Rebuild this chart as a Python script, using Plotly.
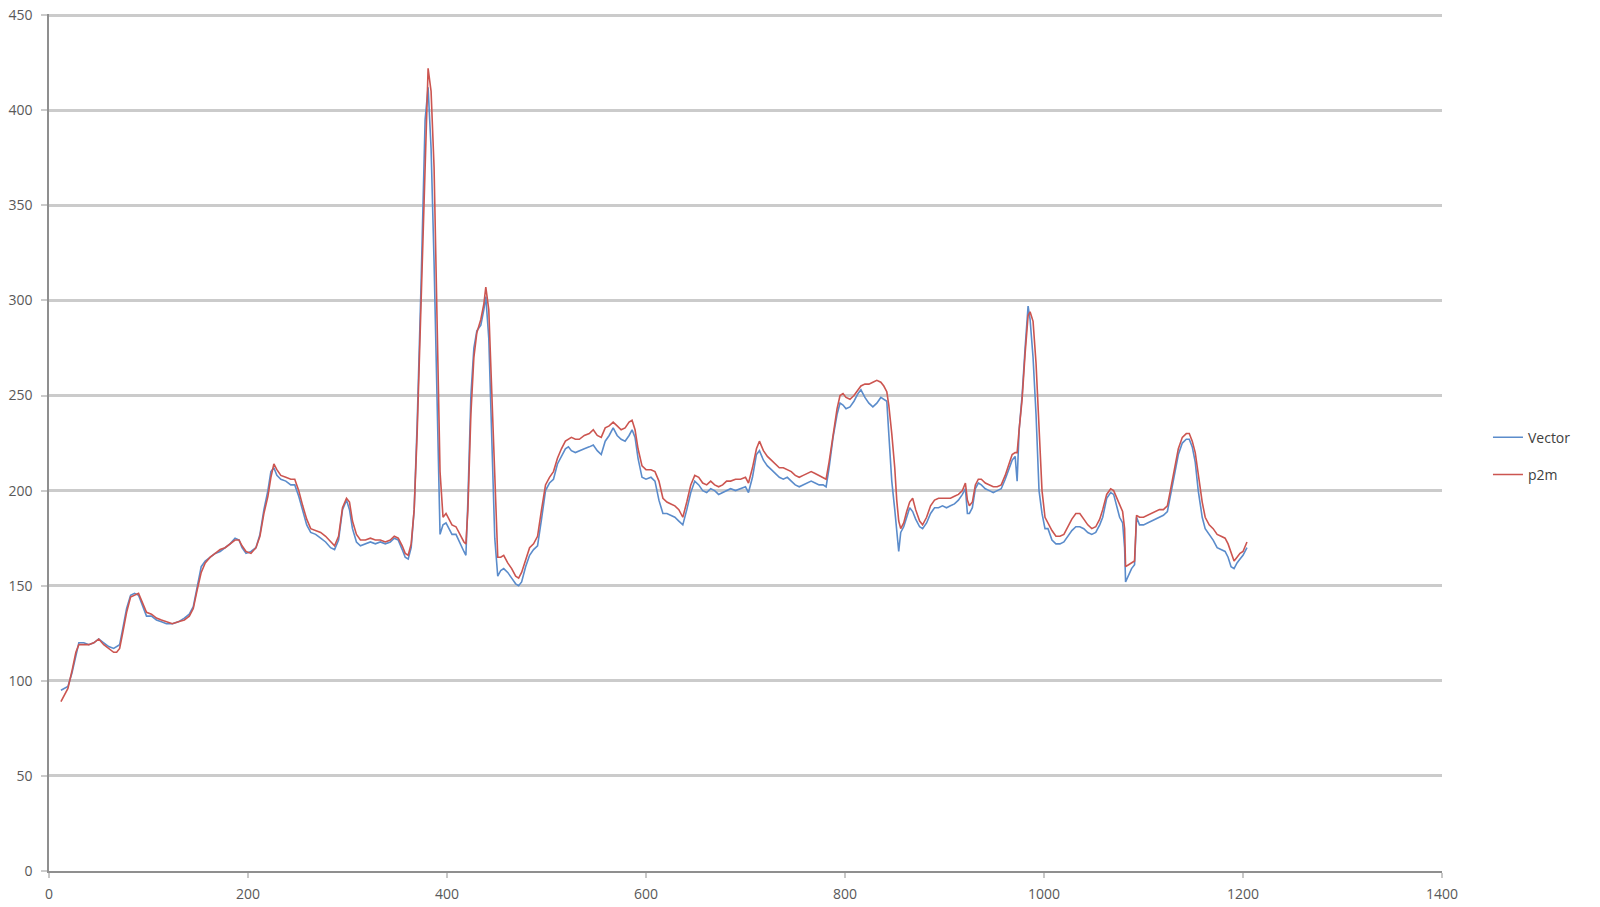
import plotly.graph_objects as go

x_vals = [12, 15, 19, 23, 27, 30, 35, 40, 45, 50, 55, 60, 65, 68, 71, 74, 78, 82, 86, 90,
          94, 98, 103, 108, 113, 118, 124, 130, 136, 141, 145, 149, 153, 157, 162, 167, 172, 177, 182, 187,
          191, 194, 198, 203, 208, 212, 216, 220, 223, 226, 229, 233, 238, 243, 247, 251, 255, 259, 263, 268,
          273, 278, 283, 287, 291, 295, 299, 302, 305, 309, 313, 318, 323, 328, 333, 338, 343, 347, 351, 355,
          358, 361, 364, 367, 370, 374, 378, 381, 384, 387, 390, 393, 396, 399, 402, 405, 409, 413, 417, 419,
          421, 424, 427, 430, 434, 437, 439, 442, 445, 448, 451, 454, 457, 461, 465, 469, 472, 475, 479, 483,
          487, 491, 495, 499, 503, 507, 511, 515, 519, 522, 525, 529, 533, 538, 543, 547, 551, 555, 559, 563,
          567, 571, 575, 579, 583, 586, 589, 592, 596, 600, 605, 609, 613, 617, 621, 625, 629, 633, 637, 641,
          645, 649, 653, 657, 661, 665, 669, 673, 677, 681, 685, 690, 695, 700, 703, 707, 711, 714, 718, 722,
          726, 730, 734, 738, 742, 746, 750, 754, 758, 762, 766, 770, 774, 778, 781, 784, 788, 792, 795, 798,
          801, 805, 809, 813, 816, 820, 824, 828, 832, 836, 839, 842, 844, 847, 850, 852, 854, 856, 859, 862,
          865, 868, 871, 875, 878, 882, 886, 890, 894, 898, 902, 906, 910, 914, 918, 921, 923, 925, 928, 931,
          934, 937, 941, 945, 949, 953, 957, 961, 965, 968, 971, 973, 975, 978, 981, 984, 986, 989, 992, 995,
          998, 1001, 1004, 1008, 1012, 1016, 1020, 1024, 1028, 1032, 1036, 1040, 1044, 1048, 1052, 1056, 1059, 1063, 1067, 1070,
          1073, 1076, 1079, 1081, 1082, 1085, 1088, 1091, 1093, 1096, 1100, 1104, 1108, 1112, 1116, 1120, 1124, 1127, 1131, 1135,
          1139, 1143, 1146, 1149, 1152, 1155, 1159, 1162, 1166, 1170, 1174, 1178, 1182, 1185, 1188, 1191, 1194, 1197, 1200, 1204]

p2m = [89, 92, 96, 105, 115, 119, 119, 119, 120, 122, 119, 117, 115, 115, 117, 125, 136, 144, 145, 146,
       141, 136, 135, 133, 132, 131, 130, 131, 132, 134, 138, 148, 157, 162, 165, 167, 169, 170, 172, 174,
       174, 171, 168, 167, 170, 176, 188, 197, 207, 214, 211, 208, 207, 206, 206, 200, 192, 185, 180, 179,
       178, 176, 173, 171, 176, 191, 196, 194, 184, 177, 174, 174, 175, 174, 174, 173, 174, 176, 175, 171,
       167, 166, 172, 190, 230, 300, 380, 422, 410, 370, 290, 210, 186, 188, 185, 182, 181, 177, 173, 172,
       190, 240, 270, 283, 290, 298, 307, 295, 250, 200, 165, 165, 166, 162, 159, 155, 154, 157, 163, 170,
       172, 176, 190, 203, 207, 210, 217, 222, 226, 227, 228, 227, 227, 229, 230, 232, 229, 228, 233, 234,
       236, 234, 232, 233, 236, 237, 232, 222, 213, 211, 211, 210, 205, 196, 194, 193, 192, 190, 186, 194,
       203, 208, 207, 204, 203, 205, 203, 202, 203, 205, 205, 206, 206, 207, 204, 212, 222, 226, 221, 218,
       216, 214, 212, 212, 211, 210, 208, 207, 208, 209, 210, 209, 208, 207, 206, 215, 230, 243, 250, 251,
       249, 248, 250, 253, 255, 256, 256, 257, 258, 257, 255, 252, 245, 230, 212, 195, 184, 180, 183, 189,
       194, 196, 190, 184, 182, 186, 192, 195, 196, 196, 196, 196, 197, 198, 200, 204, 195, 192, 194, 203,
       206, 206, 204, 203, 202, 202, 203, 208, 215, 219, 220, 220, 232, 248, 272, 292, 294, 289, 267, 235,
       200, 186, 183, 179, 176, 176, 177, 181, 185, 188, 188, 185, 182, 180, 181, 185, 190, 198, 201, 200,
       196, 192, 189, 180, 160, 161, 162, 163, 187, 186, 186, 187, 188, 189, 190, 190, 192, 200, 211, 222,
       228, 230, 230, 226, 220, 208, 194, 186, 182, 180, 177, 176, 175, 172, 167, 163, 165, 167, 168, 173]

vector = [95, 96, 97, 104, 114, 120, 120, 119, 120, 122, 120, 118, 117, 118, 119, 127, 138, 145, 146, 145,
          140, 134, 134, 132, 131, 130, 130, 131, 133, 135, 139, 150, 160, 163, 165, 167, 168, 170, 172, 175,
          174, 170, 167, 168, 170, 177, 190, 200, 210, 212, 208, 206, 205, 203, 203, 197, 190, 182, 178, 177,
          175, 173, 170, 169, 174, 190, 195, 190, 180, 173, 171, 172, 173, 172, 173, 172, 173, 175, 174, 169,
          165, 164, 170, 190, 235, 310, 395, 412, 380, 320, 240, 177, 182, 183, 180, 177, 177, 172, 168, 166,
          195, 250, 275, 284, 287, 295, 302, 280, 220, 175, 155, 158, 159, 157, 154, 151, 150, 152, 160, 166,
          169, 171, 185, 200, 204, 206, 214, 218, 222, 223, 221, 220, 221, 222, 223, 224, 221, 219, 226, 229,
          233, 229, 227, 226, 229, 232, 228, 217, 207, 206, 207, 205, 195, 188, 188, 187, 186, 184, 182, 190,
          199, 205, 203, 200, 199, 201, 200, 198, 199, 200, 201, 200, 201, 202, 199, 207, 219, 221, 216, 213,
          211, 209, 207, 206, 207, 205, 203, 202, 203, 204, 205, 204, 203, 203, 202, 212, 228, 240, 246, 245,
          243, 244, 247, 251, 253, 249, 246, 244, 246, 249, 248, 247, 230, 205, 190, 178, 168, 178, 181, 186,
          191, 189, 185, 181, 180, 183, 188, 191, 191, 192, 191, 192, 193, 195, 198, 201, 188, 188, 191, 201,
          204, 203, 201, 200, 199, 200, 201, 206, 212, 216, 218, 205, 232, 250, 275, 297, 290, 270, 240, 200,
          188, 180, 180, 174, 172, 172, 173, 176, 179, 181, 181, 180, 178, 177, 178, 182, 186, 196, 199, 198,
          192, 186, 183, 170, 152, 156, 159, 161, 186, 182, 182, 183, 184, 185, 186, 187, 189, 198, 208, 219,
          225, 227, 227, 223, 215, 200, 186, 180, 177, 174, 170, 169, 168, 165, 160, 159, 162, 164, 166, 170]

series_names = ["Vector", "p2m"]
series_colors = ["#5B8CCB", "#CC5550"]

x_ticks = [0, 200, 400, 600, 800, 1000, 1200, 1400]
y_ticks = [0, 50, 100, 150, 200, 250, 300, 350, 400, 450]

fig = go.Figure()
for name, color, ys in zip(series_names, series_colors, [vector, p2m]):
    fig.add_trace(go.Scatter(
        x=x_vals, y=ys, mode="lines", name=name,
        legendgroup=name,
        line=dict(color=color, width=1.6),
    ))

font_family = "Open Sans, DejaVu Sans, sans-serif"
fig.update_layout(
    width=1600, height=907,
    margin=dict(l=49, r=158, t=14, b=36),
    paper_bgcolor="white", plot_bgcolor="white",
    font=dict(family=font_family, size=14, color="#595959"),
    showlegend=True,
    legend=dict(
        x=1.033, xanchor="left", y=0.484, yanchor="middle",
        font=dict(family=font_family, size=14, color="#404040"),
        traceorder="grouped", tracegroupgap=16,
        bgcolor="rgba(0,0,0,0)", borderwidth=0,
        itemwidth=30,
    ),
    xaxis=dict(
        range=[0, 1400], tickmode="array", tickvals=x_ticks,
        ticktext=[str(v) for v in x_ticks],
        showgrid=False, zeroline=False, automargin=False,
        showline=True, linecolor="#8f8f8f", linewidth=1.5,
        ticks="outside", ticklen=5, tickwidth=2, tickcolor="#c8c8c8",
        ticklabelstandoff=4,
        tickfont=dict(family=font_family, size=14, color="#595959"),
    ),
    yaxis=dict(
        range=[0, 450.6], tickmode="array", tickvals=y_ticks,
        ticktext=[str(v) for v in y_ticks],
        showgrid=True, gridcolor="#cbcbcb", gridwidth=2.5,
        zeroline=False, automargin=False,
        showline=True, linecolor="#8f8f8f", linewidth=1.5,
        ticks="outside", ticklen=6, tickwidth=2, tickcolor="#cbcbcb",
        ticklabelstandoff=6,
        tickfont=dict(family=font_family, size=14, color="#595959"),
    ),
)

fig.write_html(
    "out.html",
    config={"displayModeBar": False},
    post_script="document.body.style.margin='0';document.body.style.overflow='hidden';",
)
